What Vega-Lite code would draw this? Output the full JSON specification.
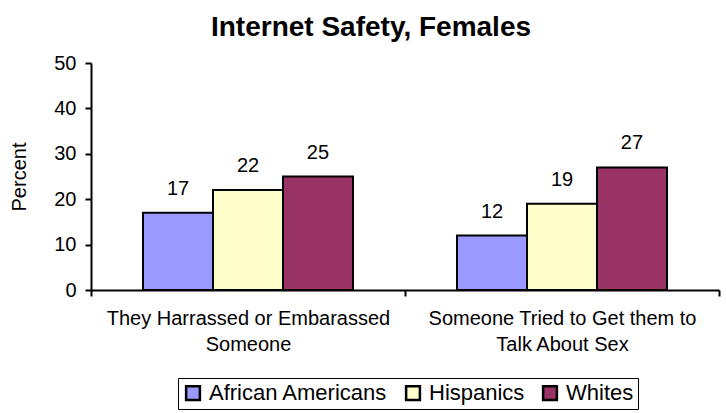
{
  "$schema": "https://vega.github.io/schema/vega-lite/v6.json",
  "width": 628,
  "height": 227,
  "autosize": {"type": "none"},
  "padding": {"left": 91, "top": 63, "right": 7, "bottom": 123},
  "background": "white",
  "title": {"text": "Internet Safety, Females", "font": "Liberation Sans", "fontSize": 28, "fontWeight": "bold", "color": "black", "anchor": "middle", "offset": 11, "dx": -34},
  "config": {"view": {"stroke": null}, "font": "Liberation Sans"},
  "data": {"values": [
    {"category": "They Harrassed or Embarassed Someone", "group": "African Americans", "value": 17},
    {"category": "They Harrassed or Embarassed Someone", "group": "Hispanics", "value": 22},
    {"category": "They Harrassed or Embarassed Someone", "group": "Whites", "value": 25},
    {"category": "Someone Tried to Get them to Talk About Sex", "group": "African Americans", "value": 12},
    {"category": "Someone Tried to Get them to Talk About Sex", "group": "Hispanics", "value": 19},
    {"category": "Someone Tried to Get them to Talk About Sex", "group": "Whites", "value": 27}
  ]},
  "encoding": {
    "x": {"field": "category", "type": "nominal", "sort": null,
      "scale": {"paddingInner": 0, "paddingOuter": 0},
      "axis": {"title": null, "labelAngle": 0, "tickBand": "extent", "domainColor": "black", "tickColor": "black", "domainWidth": 2, "tickWidth": 2, "tickSize": 6, "labelFont": "Liberation Sans", "labelFontSize": 20, "labelColor": "black", "labelPadding": 12, "labelLineHeight": 26, "labelLimit": 0,
        "labelExpr": "datum.value == 'They Harrassed or Embarassed Someone' ? ['They Harrassed or Embarassed', 'Someone'] : datum.value == 'Someone Tried to Get them to Talk About Sex' ? ['Someone Tried to Get them to', 'Talk About Sex'] : ''"}},
    "xOffset": {"field": "group", "type": "nominal", "sort": null, "scale": {"paddingInner": 0, "paddingOuter": 0.743}},
    "y": {"field": "value", "type": "quantitative", "scale": {"domain": [0, 50]},
      "axis": {"title": "Percent", "titleFont": "Liberation Sans", "titleFontSize": 20, "titleFontWeight": "normal", "titleColor": "black", "titlePadding": 24, "values": [0, 10, 20, 30, 40, 50], "grid": false, "domainColor": "black", "tickColor": "black", "domainWidth": 2, "tickWidth": 2, "tickSize": 6, "labelFont": "Liberation Sans", "labelFontSize": 20, "labelColor": "black", "labelPadding": 9}}
  },
  "layer": [
    {"mark": {"type": "bar", "stroke": "black", "strokeWidth": 2},
      "encoding": {
        "color": {"field": "group", "type": "nominal", "sort": null,
          "scale": {"domain": ["African Americans", "Hispanics", "Whites"], "range": ["#9999FF", "#FFFFCC", "#993366"]},
          "legend": {"title": null, "orient": "none", "legendX": 87, "legendY": 315, "direction": "horizontal", "symbolType": "square", "symbolSize": 190, "symbolStrokeColor": "black", "symbolStrokeWidth": 2.5, "labelFont": "Liberation Sans", "labelFontSize": 22, "labelColor": "black", "labelLimit": 0, "columnPadding": 13, "symbolOffset": 0, "labelOffset": 5, "strokeColor": "black", "padding": 4, "cornerRadius": 0}
        }
      }},
    {"mark": {"type": "text", "dy": -24, "font": "Liberation Sans", "fontSize": 20, "color": "black"},
      "encoding": {"text": {"field": "value", "type": "quantitative"}}}
  ]
}
